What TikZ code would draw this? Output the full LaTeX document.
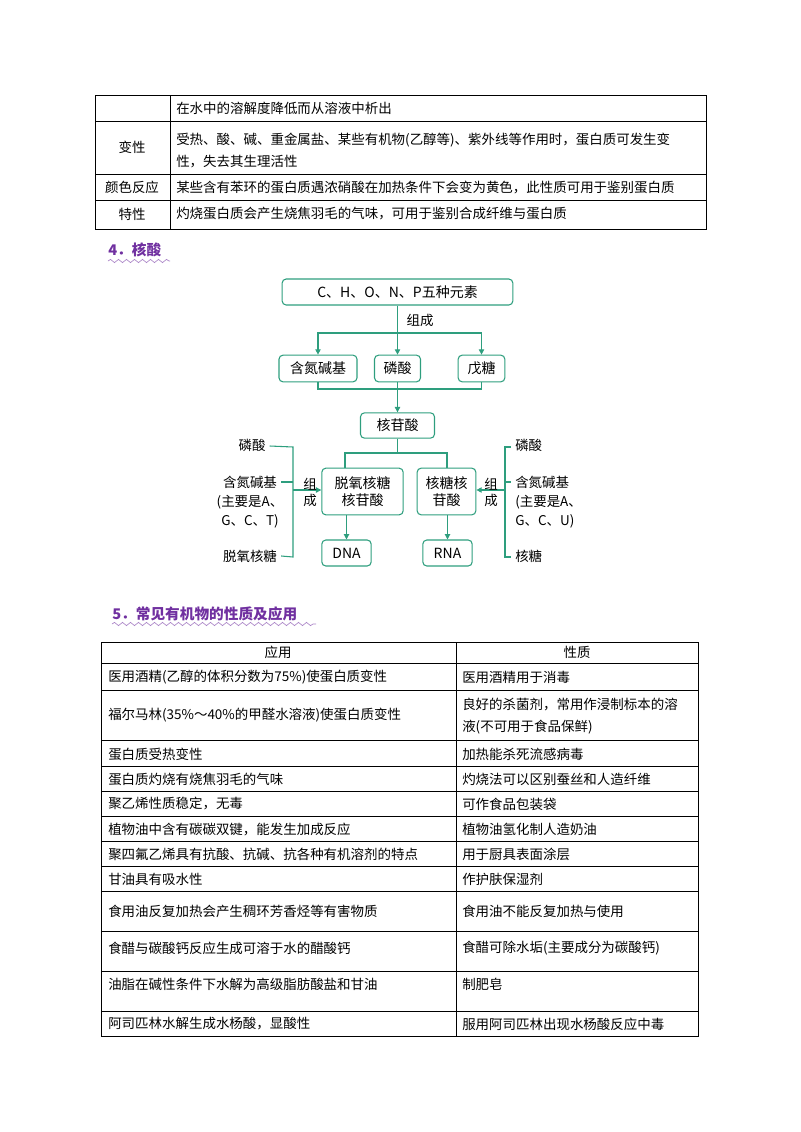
\documentclass[tikz,border=0pt]{standalone}
\usepackage{fontspec}
\setmainfont{Noto Sans CJK SC}
\usetikzlibrary{decorations.pathmorphing,arrows.meta}
\definecolor{gr}{HTML}{2E9E7E}
\definecolor{pu}{HTML}{7030A0}
\begin{document}
\begin{tikzpicture}[x=0.75pt,y=-0.75pt,
  txt/.style={font=\fontsize{10.1}{12}\selectfont,inner sep=0pt},
  ltxt/.style={txt,anchor=west},
  bx/.style={draw=gr,line width=0.8pt,rounded corners=3pt,font=\fontsize{10.5}{12.5}\selectfont,inner sep=0pt,align=center},
  gl/.style={draw=gr,line width=0.8pt},
  ga/.style={gl,-{Triangle[length=4pt,width=4pt]}},
  dl/.style={txt,align=center},
  tl/.style={line width=0.6pt},
  hd/.style={font=\fontsize{11}{13}\selectfont\bfseries,text=pu,anchor=west,inner sep=0pt},
  wv/.style={draw=pu!60,line width=0.5pt,decorate,decoration={snake,amplitude=1.2pt,segment length=6pt}}]
\useasboundingbox (0,0) rectangle (800,1132);
% ---- table 1
\draw[tl] (95,95) rectangle (706,229);
\foreach \y in {121,174,200} \draw[tl] (95,\y) -- (706,\y);
\draw[tl] (170,95) -- (170,229);
\node[ltxt] (t1a) at (176,108) {在水中的溶解度降低而从溶液中析出};
\node[txt] (t1b) at (132,147) {变性};
\node[ltxt] (t1c) at (176,140) {受热、酸、碱、重金属盐、某些有机物(乙醇等)、紫外线等作用时，蛋白质可发生变};
\node[ltxt] (t1d) at (176,162) {性，失去其生理活性};
\node[txt] (t1e) at (132,187) {颜色反应};
\node[ltxt] (t1f) at (176,187) {某些含有苯环的蛋白质遇浓硝酸在加热条件下会变为黄色，此性质可用于鉴别蛋白质};
\node[txt] (t1g) at (132,214) {特性};
\node[ltxt] (t1h) at (176,214) {灼烧蛋白质会产生烧焦羽毛的气味，可用于鉴别合成纤维与蛋白质};
% ---- heading 4
\node[hd] (h4) at (108,250) {4．核酸};
\draw[wv] (108,261) -- (170,261);
% ---- diagram
\node[bx,minimum width=173pt,minimum height=19.5pt] (top) at (397.5,292) {C、H、O、N、P五种元素};
\node[dl] (zc) at (420,320) {组成};
\node[bx,minimum width=58.5pt,minimum height=20pt] (b1) at (318,368.5) {含氮碱基};
\node[bx,minimum width=34.5pt,minimum height=20pt] (b2) at (397.5,368.5) {磷酸};
\node[bx,minimum width=35pt,minimum height=20pt] (b3) at (481.5,368.5) {戊糖};
\node[bx,minimum width=55.5pt,minimum height=19pt] (hg) at (397.5,425.5) {核苷酸};
\node[bx,minimum width=61pt,minimum height=35pt] (dn) at (362.5,491.5) {脱氧核糖\\核苷酸};
\node[bx,minimum width=44pt,minimum height=35pt] (rn) at (446.5,491.5) {核糖核\\苷酸};
\node[bx,minimum width=37pt,minimum height=19.5pt] (dna) at (346.5,553) {DNA};
\node[bx,minimum width=37pt,minimum height=19.5pt] (rna) at (447.5,553) {RNA};
\coordinate (j1) at (397.5,333);
\draw[gl] (top.south) -- (j1);
\draw[ga] (j1) -- (b2.north);
\draw[ga] (j1) -| (b1.north);
\draw[ga] (j1) -| (b3.north);
\coordinate (j2) at (397.5,389);
\draw[gl] (b1.south) |- (j2) -| (b3.south);
\draw[gl] (b2.south) -- (j2);
\draw[ga] (j2) -- (hg.north);
\coordinate (j3) at (397.5,453);
\draw[gl] (hg.south) -- (j3);
\draw[gl] (j3) -| (345,468);
\draw[gl] (j3) -| (447,468);
\draw[ga] (dn.south -| dna.north) -- (dna.north);
\draw[ga] (rn.south -| rna.north) -- (rna.north);
% left bracket
\node[dl] (l1) at (252,445) {磷酸};
\node[dl] (l2) at (250,482) {含氮碱基};
\node[dl] (l3) at (250,502) {(主要是A、};
\node[dl] (l4) at (250,521) {G、C、T)};
\node[dl] (l5) at (250,556) {脱氧核糖};
\coordinate (lb1) at (293,447);
\coordinate (lb2) at (293,557);
\coordinate (la) at (293,490);
\draw[gl] (l1.east) ++(4,1) -- (lb1) -- (lb2) -- ([xshift=3pt]l5.east);
\draw[gl] ([xshift=3pt]l2.east) -- (293,482);
\draw[ga] (la) -- (dn.west |- la);
\node[dl] (zl) at (310,492) {组\\成};
% right bracket
\node[ltxt] (r1) at (515,445) {磷酸};
\node[ltxt] (r2) at (515,482) {含氮碱基};
\node[ltxt] (r3) at (515,502) {(主要是A、};
\node[ltxt] (r4) at (515,521) {G、C、U)};
\node[ltxt] (r5) at (515,556) {核糖};
\coordinate (rb1) at (505,447);
\coordinate (rb2) at (505,557);
\coordinate (ra) at (505,490);
\draw[gl] (511,447) -- (rb1) -- (rb2) -- (511,557);
\draw[gl] (505,482) -- (511,482);
\draw[ga] (ra) -- (rn.east |- ra);
\node[dl] (zr) at (491,492) {组\\成};
% ---- heading 5
\node[hd] (h5) at (112,614) {5．常见有机物的性质及应用};
\draw[wv] (112,624) -- (316,624);
% ---- table 2
\draw[tl] (101,642) rectangle (698,1036);
\foreach \y in {663,690,740,766,791,816,841,866,891,931,971,1011} \draw[tl] (101,\y) -- (698,\y);
\draw[tl] (456,642) -- (456,1036);
\node[txt] (ha) at (278,652.5) {应用};
\node[txt] (hb) at (577,652.5) {性质};
\node[ltxt] (a1) at (108,677) {医用酒精(乙醇的体积分数为75\%)使蛋白质变性};
\node[ltxt] (b1t) at (462,677) {医用酒精用于消毒};
\node[ltxt] (a2) at (108,715) {福尔马林(35\%～40\%的甲醛水溶液)使蛋白质变性};
\node[ltxt] (b2t) at (462,704) {良好的杀菌剂，常用作浸制标本的溶};
\node[ltxt] (b2u) at (462,727) {液(不可用于食品保鲜)};
\node[ltxt] (a3) at (108,754) {蛋白质受热变性};
\node[ltxt] (b3t) at (462,754) {加热能杀死流感病毒};
\node[ltxt] (a4) at (108,779) {蛋白质灼烧有烧焦羽毛的气味};
\node[ltxt] (b4t) at (462,779) {灼烧法可以区别蚕丝和人造纤维};
\node[ltxt] (a5) at (108,804) {聚乙烯性质稳定，无毒};
\node[ltxt] (b5t) at (462,804) {可作食品包装袋};
\node[ltxt] (a6) at (108,829) {植物油中含有碳碳双键，能发生加成反应};
\node[ltxt] (b6t) at (462,829) {植物油氢化制人造奶油};
\node[ltxt] (a7) at (108,854) {聚四氟乙烯具有抗酸、抗碱、抗各种有机溶剂的特点};
\node[ltxt] (b7t) at (462,854) {用于厨具表面涂层};
\node[ltxt] (a8) at (108,879) {甘油具有吸水性};
\node[ltxt] (b8t) at (462,879) {作护肤保湿剂};
\node[ltxt] (a9) at (108,911) {食用油反复加热会产生稠环芳香烃等有害物质};
\node[ltxt] (b9t) at (462,911) {食用油不能反复加热与使用};
\node[ltxt] (a10) at (108,948) {食醋与碳酸钙反应生成可溶于水的醋酸钙};
\node[ltxt] (b10t) at (462,948) {食醋可除水垢(主要成分为碳酸钙)};
\node[ltxt] (a11) at (108,984) {油脂在碱性条件下水解为高级脂肪酸盐和甘油};
\node[ltxt] (b11t) at (462,984) {制肥皂};
\node[ltxt] (a12) at (108,1024) {阿司匹林水解生成水杨酸，显酸性};
\node[ltxt] (b12t) at (462,1024) {服用阿司匹林出现水杨酸反应中毒};
\end{tikzpicture}
\end{document}
